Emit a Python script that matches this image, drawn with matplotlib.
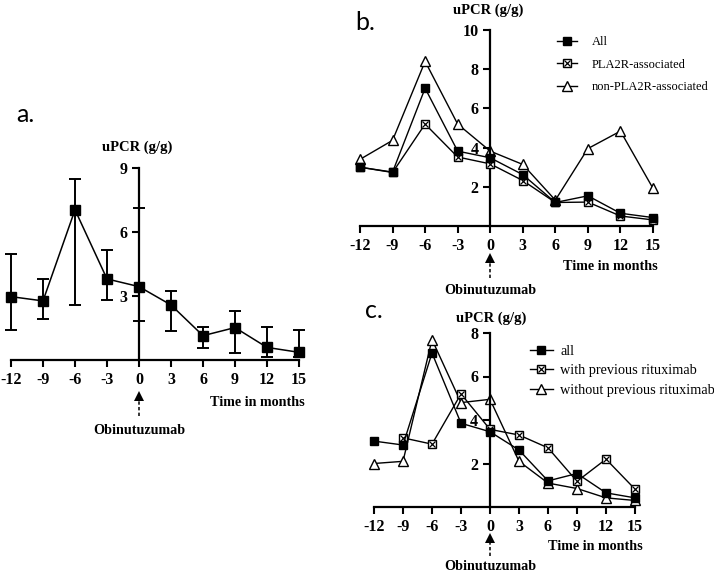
import numpy as np
import matplotlib
matplotlib.use("Agg")
import matplotlib.pyplot as plt
from matplotlib.lines import Line2D
from matplotlib.transforms import blended_transform_factory

# ---- data ----
months = [-12, -9, -6, -3, 0, 3, 6, 9, 12, 15]
xticks = months

# panel a: all patients, mean with error bars
a_mean = [2.97, 2.77, 7.04, 3.80, 3.44, 2.58, 1.14, 1.52, 0.59, 0.36]
a_up = [4.98, 3.80, 8.48, 5.16, 7.12, 3.24, 1.56, 2.28, 1.56, 1.41]
a_low = [1.41, 1.92, 2.58, 2.82, 1.85, 1.36, 0.58, 0.31, 0.13, 0.16]

# panel b
b_all = [3.0, 2.75, 7.03, 3.82, 3.48, 2.62, 1.20, 1.54, 0.65, 0.43]
b_pla2r = [3.0, 2.73, 5.20, 3.52, 3.17, 2.32, 1.20, 1.22, 0.51, 0.31]
b_non = [3.4, 4.37, 8.40, 5.20, 3.82, 3.14, 1.32, 3.95, 4.84, 1.92]
b_labels = ["All", "PLA2R-associated", "non-PLA2R-associated"]

# panel c
c_all = [3.03, 2.85, 7.08, 3.85, 3.46, 2.62, 1.20, 1.54, 0.65, 0.42]
c_with_x = [-9, -6, -3, 0, 3, 6, 9, 12, 15]
c_with = [3.18, 2.89, 5.20, 3.57, 3.31, 2.72, 1.18, 2.20, 0.82]
c_without = [2.0, 2.1, 7.70, 4.80, 4.95, 2.10, 1.10, 0.85, 0.42, 0.30]
c_labels = ["all", "with previous rituximab", "without previous rituximab"]

W, H = 714, 572
serif = "Liberation Serif"


def fx(px):
    return px / W


def fy(py):
    return 1 - py / H


def style_axis(ax, ymax, yticks):
    ax.set_xlim(-12, 15)
    ax.set_ylim(0, ymax)
    ax.spines["top"].set_visible(False)
    ax.spines["right"].set_visible(False)
    ax.spines["left"].set_position(("data", 0))
    for s in ["left", "bottom"]:
        ax.spines[s].set_linewidth(1.6)
    ax.set_xticks(xticks)
    ax.set_xticklabels([str(t) for t in xticks])
    ax.set_yticks(yticks)
    ax.set_yticklabels([str(t) for t in yticks])
    ax.tick_params(direction="out", length=5, width=1.5, pad=3.5, labelsize=11.5)
    for lab in ax.get_xticklabels() + ax.get_yticklabels():
        lab.set_fontfamily(serif)
        lab.set_fontweight("bold")
    ax.patch.set_alpha(0)


def add_text(fig, ax, ylab_xy, time_xy, arrow_y, label_y):
    fig.text(fx(ylab_xy[0]), fy(ylab_xy[1]), "uPCR (g/g)", ha="center", va="center",
             fontsize=10.5, fontweight="bold", family=serif)
    fig.text(fx(time_xy[0]), fy(time_xy[1]), "Time in months", ha="right", va="center",
             fontsize=10.2, fontweight="bold", family=serif)
    tr = blended_transform_factory(ax.transData, fig.transFigure)
    ax.add_line(Line2D([0, 0], [fy(arrow_y[1]), fy(arrow_y[0] + 4)], transform=tr,
                       color="black", lw=1.1, ls=(0, (2.2, 1.5)), clip_on=False))
    ax.add_line(Line2D([0], [fy(arrow_y[0] + 3.5)], transform=tr, marker="^", ms=7.5,
                       color="black", mew=0, clip_on=False))
    ax.text(0, fy(label_y), "Obinutuzumab", transform=tr, ha="center", va="center",
            fontsize=10.2, fontweight="bold", family=serif)


def crossed(ax, x, y, ms):
    ax.plot(x, y, "k-", lw=1.0, marker="s", ms=ms, mfc="white", mec="black", mew=1.0,
            clip_on=False, zorder=3)
    ax.plot(x, y, ls="none", marker="x", ms=ms * 0.7, mec="black", mew=0.9,
            clip_on=False, zorder=3.1)


fig = plt.figure(figsize=(W / 100, H / 100), dpi=100)

# ---- panel a ----
ax_a = fig.add_axes([fx(11), fy(360), 288 / W, 192 / H])
style_axis(ax_a, 9, [3, 6, 9])
yerr = [np.array(a_mean) - np.array(a_low), np.array(a_up) - np.array(a_mean)]
ax_a.errorbar(months, a_mean, yerr=yerr, color="black", lw=1.1, elinewidth=1.4,
              capsize=4, capthick=1.4, marker="s", ms=6.5, clip_on=False, zorder=3)
add_text(fig, ax_a, (137, 147), (305, 403), (392, 416), 430)
fig.text(fx(16), fy(114), "a.", fontsize=18, family="Lato", ha="left", va="center")

# ---- panel b ----
ax_b = fig.add_axes([fx(360), fy(226), 293 / W, 196 / H])
style_axis(ax_b, 10, [2, 4, 6, 8, 10])
ax_b.plot(months, b_non, "k-", lw=1.0, marker="^", ms=7.5, mfc="white", mew=1.0,
          clip_on=False, zorder=2.5)
crossed(ax_b, months, b_pla2r, 5.5)
ax_b.plot(months, b_all, "k-", lw=1.0, marker="s", ms=5.5, clip_on=False, zorder=3.2)
add_text(fig, ax_b, (488, 10), (658, 267), (255, 278), 290)
fig.text(fx(355), fy(23), "b.", fontsize=18, family="Lato", ha="left", va="center")

h_all = Line2D([], [], color="black", lw=1.0, marker="s", ms=5.5)
h_cr = (Line2D([], [], color="black", lw=1.0, marker="s", ms=5.5, mfc="white"),
        Line2D([], [], ls="none", marker="x", ms=3.9, color="black", mew=0.9))
h_tri = Line2D([], [], color="black", lw=1.0, marker="^", ms=7, mfc="white")
leg_b = fig.legend([h_all, h_cr, h_tri], b_labels, loc="upper left",
                   bbox_to_anchor=(fx(557), fy(36)), frameon=False, borderpad=0,
                   borderaxespad=0, handlelength=1.6, handletextpad=1.2,
                   labelspacing=0.85, prop={"family": serif, "size": 9})

# ---- panel c ----
ax_c = fig.add_axes([fx(374), fy(507), 261 / W, 174 / H])
style_axis(ax_c, 8, [2, 4, 6, 8])
ax_c.plot(months, c_without, "k-", lw=1.0, marker="^", ms=7.5, mfc="white", mew=1.0,
          clip_on=False, zorder=2.5)
crossed(ax_c, c_with_x, c_with, 5.5)
ax_c.plot(months, c_all, "k-", lw=1.0, marker="s", ms=5.5, clip_on=False, zorder=3.2)
add_text(fig, ax_c, (491, 318), (643, 547), (534, 556), 567)
fig.text(fx(365), fy(311), "c.", fontsize=18, family="Lato", ha="left", va="center")

leg_c = fig.legend([h_all, h_cr, h_tri], c_labels, loc="upper left",
                   bbox_to_anchor=(fx(530), fy(345)), frameon=False, borderpad=0,
                   borderaxespad=0, handlelength=1.6, handletextpad=0.5,
                   labelspacing=0.45, prop={"family": serif, "size": 10.3})

fig.savefig("out.png", dpi=100)
